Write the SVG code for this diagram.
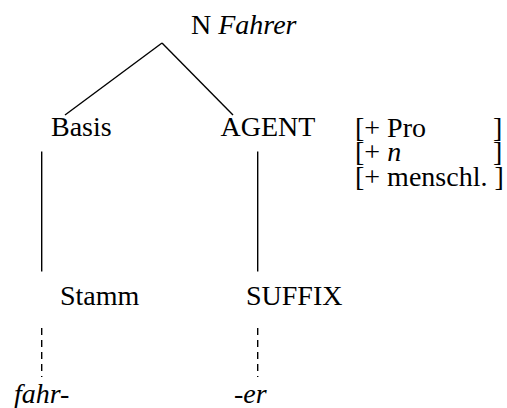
<svg xmlns="http://www.w3.org/2000/svg" width="507" height="408" viewBox="0 0 507 408">
  <style>
    text { font-family: "Liberation Serif", "Times New Roman", serif; font-size: 28px; fill: #000; }
    .it { font-style: italic; }
    .edge { stroke: #000; stroke-width: 1.4; fill: none; }
    .dash { stroke-dasharray: 7 5; }
  </style>
  <rect width="507" height="408" fill="#fff"/>
  <g id="connectors">
    <line class="edge" x1="162" y1="43" x2="65" y2="115"/>
    <line class="edge" x1="162" y1="43" x2="233" y2="115"/>
    <line class="edge" x1="41.7" y1="151.5" x2="41.7" y2="271.5"/>
    <line class="edge" x1="257.7" y1="151.5" x2="257.7" y2="271.5"/>
    <line class="edge dash" x1="41.7" y1="328" x2="41.7" y2="377"/>
    <line class="edge dash" x1="257.7" y1="328" x2="257.7" y2="377"/>
  </g>
  <g id="n-fahrer"><text x="191" y="33.5">N <tspan class="it">Fahrer</tspan></text></g>
  <g id="basis"><text x="51" y="135.5">Basis</text></g>
  <g id="agent"><text x="220.5" y="135.5">AGENT</text></g>
  <g id="features">
    <text x="355" y="136.5">[+ Pro</text><text x="493" y="136.5">]</text>
    <text x="355" y="161">[+ <tspan class="it">n</tspan></text><text x="493" y="161">]</text>
    <text x="355" y="185.5">[+ menschl. ]</text>
  </g>
  <g id="stamm"><text x="60" y="305">Stamm</text></g>
  <g id="suffix"><text x="246" y="305">SUFFIX</text></g>
  <g id="fahr"><text class="it" x="14" y="403">fahr-</text></g>
  <g id="er"><text class="it" x="234" y="403">-er</text></g>
</svg>
